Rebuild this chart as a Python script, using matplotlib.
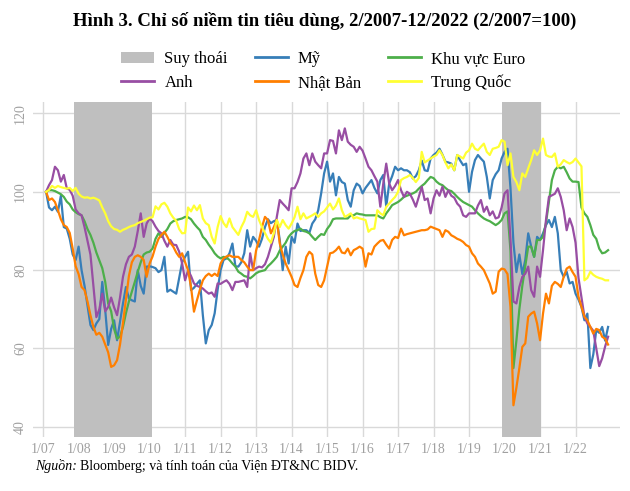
import matplotlib
matplotlib.use("Agg")
import matplotlib.pyplot as plt
from matplotlib.patches import Patch
from matplotlib.lines import Line2D

# monthly index values, Feb 2007 .. Dec 2022 (2/2007 = 100)
us = [
    100, 96, 95.3, 96.2, 94.9, 99, 91, 90.6, 88, 84, 82.6,
    86, 80, 76, 71, 66, 64.7, 66.4, 67.5, 77, 69.8, 60.9, 65,
    67.2, 62.1, 66.8, 71.5, 75.7, 72.8, 72.3, 72, 80, 76, 74, 80.9,
    81, 80.8, 80.5, 79.5, 80, 83.4, 74.5, 75, 74.5, 74, 78, 82,
    83.4, 84.7, 74.9, 75.5, 76.5, 77.4, 68.5, 61.3, 64.7, 66, 69, 75,
    80, 82.6, 83, 84.3, 86.8, 81, 80.9, 82, 84.3, 90.2, 86, 88.5,
    87.5, 86, 88, 91, 93, 92, 92.5, 92.8, 87.7, 80, 86, 81.7,
    88.5, 87, 91.9, 90, 90.2, 90.2, 89.5, 91.9, 93, 95.3, 99.6, 104.7,
    107.7, 102.6, 104.7, 99.1, 103.8, 102.5, 102.1, 97.9, 96.2, 100.4, 102.1, 101.5,
    99.6, 101, 102, 103, 101, 99.6, 103, 104.3, 96.2, 102.1, 104, 106.4,
    105.5, 106, 105.5, 105.5, 105, 103.4, 104, 105.5, 108, 105.5, 105.3, 108.5,
    109.4, 110, 111, 109.5, 107.7, 107.5, 107.2, 105.5, 109.4, 108, 106.8, 107.2,
    100, 105.1, 108.1, 109.4, 108.5, 107.7, 103.8, 98.3, 103, 104.5, 105.5, 108.5,
    110.2, 111, 101, 87, 79.5, 84, 79, 82.6, 89.4, 86, 83.4, 88.5,
    87.7, 89.4, 91.5, 92.8, 91, 93.6, 89.4, 80, 78.3, 79.6, 76.6, 77,
    74, 72.5, 70.6, 67.2, 68.9, 55, 58.5, 64.7, 64, 65.5, 62, 65.5,
]
euro = [
    100, 100.4, 100.4, 100.2, 99.8, 99.4, 98.7, 97.5, 96.8, 95.5, 94.8,
    94.3, 94, 92.5, 90.5, 89, 87, 84.5, 82.5, 80.5, 77, 71.5, 69.5,
    65, 62.5, 63, 65.5, 69, 72, 74.5, 77, 79.6, 82, 84, 84.5,
    84.7, 85.5, 88, 89.4, 88.5, 89.5, 90.5, 91.9, 92.5, 92.8, 93, 93.2,
    93.6, 93.5, 93, 91.9, 91, 90.2, 88.5, 87.7, 86.5, 85.5, 84.3, 83.5,
    83, 83.4, 83.2, 82.6, 81.7, 80.9, 79.6, 79.1, 78.5, 78.3, 77.9, 78.5,
    79.2, 79.6, 79.8, 80, 81, 81.7, 82.5, 83.4, 85, 86, 87, 88.5,
    89.4, 90, 90.2, 90.6, 90, 89.8, 89.4, 88.5, 87.7, 88.5, 89.2, 89,
    90.5, 91.5, 93, 93.2, 93.2, 93.2, 93.2, 93.2, 94, 94, 94.5, 94.3,
    94.2, 94, 94, 94, 94, 94, 93.5, 93.2, 94.5, 95.5, 96.6, 97,
    97.4, 98, 98.7, 99, 99.3, 99.6, 100, 100.8, 101.5, 102.1, 103, 103.8,
    103.5, 102.6, 102, 101.7, 101, 100.4, 100.2, 99.5, 98.7, 98, 97.4, 97,
    96.6, 96.2, 95.3, 94.5, 93.8, 93.2, 92.8, 92.5, 92, 91.5, 92, 92.8,
    94.5, 95, 85, 55, 62, 70, 76, 81, 86, 86, 83.4, 87.7,
    87.7, 88.5, 92, 97.5, 103, 105.5, 106.4, 106, 106.4, 105, 103.4, 102.6,
    102.6, 102.5, 96, 94.5, 93.6, 91.5, 89, 88, 85.5, 84.3, 84.5, 85.1,
]
uk = [
    100, 101.7, 103, 106.4, 105.5, 102.6, 104.3, 100.9, 100.5, 99, 95.5,
    94.5, 94, 91, 87.5, 84, 76, 68, 70, 74, 69.5, 70.6, 73,
    70.5, 68.5, 73, 78.3, 81.5, 83.4, 84, 86, 90, 94.5, 88.5, 91.9,
    93.2, 92.5, 91.1, 90, 89.4, 87.5, 86, 87.7, 86.5, 86.4, 84.7, 81.7,
    77.4, 80, 78.5, 76.6, 76, 75.7, 75.3, 74.6, 74, 74.3, 73.2, 76.6,
    76.5, 77, 77.4, 76.5, 74.9, 77, 77, 77.2, 77.4, 75.7, 84.3, 80,
    80.5, 80.9, 80.7, 81.5, 83.4, 86, 88.5, 93.6, 97.9, 97, 96.2, 95.3,
    100.9, 100.9, 102.5, 104.7, 108.5, 109.8, 106.8, 109.8, 107.7, 106.8, 106, 109.8,
    109.8, 113.2, 113, 109.8, 115.7, 113.2, 116.2, 112.8, 112, 111.5, 110.2, 111.5,
    110.5, 108.5, 106.4, 105.5, 104, 102.6, 96.2, 102.1, 107.2, 102.1, 100.4, 101.5,
    103, 100.4, 98.7, 100, 99.5, 98, 96.2, 98.7, 101.3, 97.9, 98.3, 94.5,
    98.3, 100.4, 99, 101.3, 98.7, 100.4, 99, 98.5, 97, 96.2, 94, 93.6,
    94.5, 94.5, 94.5, 96.5, 97.9, 94.9, 96.2, 94, 95, 93.2, 93.5, 96,
    99.6, 100.4, 88, 72, 71.5, 75.7, 78.3, 79.1, 80.9, 74.9, 73.2, 80.9,
    78.3, 85.1, 92.8, 98.7, 99.1, 99.5, 100.9, 98.7, 95.3, 90.2, 93.2, 91,
    87, 78, 73, 68.1, 66.4, 65.5, 64.5, 60, 55.5, 57.5, 60.5, 63,
]
japan = [
    100, 97.9, 98.3, 97.4, 95.3, 93, 91.5, 91, 89.5, 85.5, 81,
    79, 75.7, 74.9, 72, 68.5, 65.5, 63.5, 64, 63, 61, 59, 55.3,
    55.7, 57, 61, 66.5, 72.5, 78.5, 82, 83.4, 83.8, 83.4, 82.6, 78.3,
    81.7, 83.5, 86, 88, 89, 89.8, 88.5, 87, 86, 84.5, 83.4, 84.3,
    82, 80, 75.7, 69.4, 72.3, 75, 77.4, 78.5, 79.1, 78.5, 79.1, 78.5,
    81.7, 83, 83.5, 83.8, 83.4, 83.4, 83.4, 82.6, 82, 80.9, 80, 80,
    85, 87.7, 91, 93.6, 92.8, 89.4, 91, 92.8, 86.8, 84, 81.7, 80,
    78.3, 76.2, 75.7, 78, 80, 83.4, 84.7, 84, 79.1, 76.2, 75.7, 77.4,
    80.9, 84.3, 84.5, 85.1, 86, 84.5, 84.3, 85.5, 83.8, 85.1, 85.5, 86,
    85.5, 80.9, 84.3, 84, 86, 86.8, 87.5, 87.7, 86.5, 85.5, 87.7, 88.5,
    88.2, 90.6, 88.9, 89.2, 89.4, 89.6, 89.8, 90, 90.2, 90.2, 90.4, 91.1,
    90.8, 90.5, 90.2, 88.5, 90.2, 89.8, 88.9, 88.5, 88, 87.7, 87.2, 86.4,
    86, 84.3, 83.4, 81.7, 80.9, 80, 78.3, 76.6, 74, 74.5, 79.6, 80.4,
    80.2, 79, 70.6, 45.5, 50, 55, 60.4, 61.3, 68.1, 68.9, 69.4, 66.4,
    62.1, 68.9, 74, 71.5, 76, 77, 76.5, 75.7, 78.3, 80.4, 80.9, 79.5,
    78.3, 73.2, 70.6, 68.1, 67.2, 65.5, 63.8, 65, 64.7, 63, 62.5, 61,
]
china = [
    100, 100.5, 101.5, 101, 101.5, 101.2, 101, 100.8, 101, 100.2, 101,
    99.5, 98.8, 98.5, 98.6, 98.3, 98.5, 98.2, 97.8, 96, 94.5, 92.5, 91.2,
    90.5, 90.3, 89.8, 90.3, 90.6, 91, 91.3, 91.5, 92, 92.3, 92.6, 93,
    93.4, 93.5, 96.3, 95.5, 96.8, 97.2, 96.2, 94.5, 93.4, 92.6, 90.5, 89.4,
    89.5, 96, 95, 96.5, 95.3, 96.6, 93.2, 92, 91.5, 88.5, 86.8, 91,
    93.8, 92, 91, 93.2, 91, 90, 89, 91, 92.5, 94.9, 94, 93.6,
    95.3, 92.8, 91, 89.5, 88, 87, 89.4, 92.8, 91, 92.8, 91.5, 90.6,
    91.9, 93.5, 96.2, 93, 94.5, 93.2, 93.6, 94, 94.5, 93.6, 94.5, 95,
    96, 97, 95.5, 96.5, 98.3, 95.3, 93.6, 94, 94.5, 93.2, 93.5, 93.2,
    93, 92.8, 89.8, 90.5, 90.6, 95.3, 94.5, 94, 96.2, 97, 97.9, 98.7,
    100, 103, 103.5, 103.8, 104.3, 103.5, 102.5, 103.5, 110.2, 107.5, 108, 108.5,
    109, 109.4, 110.6, 109.4, 107.5, 106, 107, 105.5, 109.4, 109, 108.5, 110,
    110.6, 112.3, 111, 110.6, 111.5, 112.3, 110.2, 109.4, 111, 111.2, 111.5, 113.2,
    112.8, 106.8, 109.8, 103.8, 102.5, 100.4, 104.7, 103.8, 106, 108.1, 110.6, 109.4,
    110.6, 113.6, 109.4, 109, 108.9, 109.8, 106.4, 107, 108.1, 107.6, 107.2, 107.6,
    108.5, 107.5, 106.5, 77.4, 78, 79.6, 78.8, 78.3, 78, 77.8, 77.4, 77.4,
]

series = [
    ("Mỹ", us, "#377eb8"),
    ("Khu vực Euro", euro, "#4daf4a"),
    ("Anh", uk, "#984ea3"),
    ("Nhật Bản", japan, "#ff7f00"),
    ("Trung Quốc", china, "#ffff33"),
]
recessions = [(10.4, 36.8), (155.0, 168.2)]   # in months since 1/2007
year_labels = [f"1/{y % 100:02d}" for y in range(2007, 2023)]

plt.rcParams["font.family"] = ["Liberation Serif", "DejaVu Serif"]

fig = plt.figure(figsize=(6.3, 4.91), dpi=100)
ax = fig.add_axes([0.052, 0.110, 0.932, 0.682])

for a, b in recessions:
    ax.axvspan(a, b, color="#bfbfbf", lw=0, zorder=1)

months = list(range(1, len(us) + 1))
for name, vals, col in series:
    ax.plot(months, vals, color=col, lw=1.6, zorder=3)

ax.set_xlim(-3.5, 195)
ax.set_ylim(37.4, 122.9)
ax.set_xticks(range(0, 12 * len(year_labels), 12))
ax.set_xticklabels(year_labels)
ax.set_yticks([40, 60, 80, 100, 120])
ax.tick_params(length=0, labelsize=10, colors="#a0a0a0", pad=4)
for lab in ax.get_yticklabels():
    lab.set_rotation(90)
    lab.set_va("center")
ax.grid(True, color="#d9d9d9", lw=1)
ax.set_axisbelow(True)
for s in ax.spines.values():
    s.set_visible(False)

fig.text(0.515, 0.958, "Hình 3. Chỉ số niềm tin tiêu dùng, 2/2007-12/2022 (2/2007=100)",
         ha="center", va="center", fontsize=13.5, fontweight="bold")

handles = {name: Line2D([], [], color=col, lw=2) for name, _, col in series}
handles["Suy thoái"] = Patch(facecolor="#bfbfbf", edgecolor="none")
order = ["Suy thoái", "Anh", "Mỹ", "Nhật Bản", "Khu vực Euro", "Trung Quốc"]
fig.legend([handles[k] for k in order], order, loc="center", ncol=3,
           bbox_to_anchor=(0.513, 0.855), frameon=False, fontsize=12,
           handlelength=2.0, handletextpad=0.6, columnspacing=1.6,
           labelspacing=0.45)

fig.text(0.056, 0.05, "Nguồn:", style="italic", fontsize=10, va="center")
fig.text(0.127, 0.05, "Bloomberg; và tính toán của Viện ĐT&NC BIDV.",
         fontsize=10, va="center")

fig.savefig("out.png", dpi=100)
